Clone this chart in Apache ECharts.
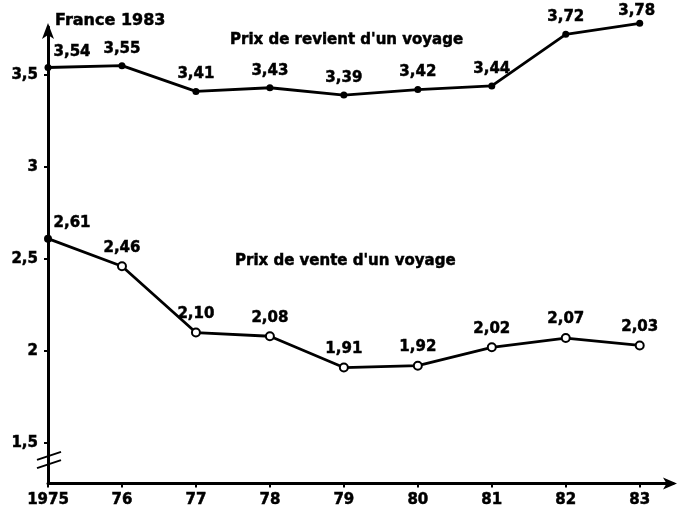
<!DOCTYPE html>
<html>
<head>
<meta charset="utf-8">
<script src="https://cdn.jsdelivr.net/npm/echarts@6/dist/echarts.min.js"></script>
<style>
  html, body { margin: 0; padding: 0; background: #fff; }
  #chart { width: 678px; height: 515px; }
</style>
</head>
<body>
<div id="chart"></div>
<script>
// Years on the horizontal axis and their printed labels
const years = [1975, 1976, 1977, 1978, 1979, 1980, 1981, 1982, 1983];
const yearLabels = ['1975', '76', '77', '78', '79', '80', '81', '82', '83'];

// Cost price of a trip (upper curve) and selling price of a trip (lower curve)
const prixRevient = [3.54, 3.55, 3.41, 3.43, 3.39, 3.42, 3.44, 3.72, 3.78];
const prixVente = [2.61, 2.46, 2.10, 2.08, 1.91, 1.92, 2.02, 2.07, 2.03];

// Values printed on the vertical axis
const yTicks = [1.5, 2, 2.5, 3, 3.5];

const titleText = 'France 1983';
const labelRevient = "Prix de revient d'un voyage";
const labelVente = "Prix de vente d'un voyage";

const FONT = 'DejaVu Sans';
const INK = '#000';

const fr = v => v.toFixed(2).replace('.', ',');
const frAxis = v => String(v).replace('.', ',');

// heavy printed lettering
const textStyle = {
  fontFamily: FONT, fontWeight: 'bold', fontSize: 15, color: INK,
  textBorderColor: INK, textBorderWidth: 0.5
};

const chart = echarts.init(document.getElementById('chart'), null, { renderer: 'canvas' });

function pointLabel(i, n) {
  const fmt = p => fr(p.value[1]);
  // the first value sits on the vertical axis, so its label is pushed to the right
  if (i === 0) return { show: true, position: 'top', distance: 4, offset: [24, 0], formatter: fmt };
  // the last point is close to the top edge, so its label hugs the point
  if (i === n - 1) return { show: true, position: 'top', distance: 1, offset: [-3, 0], formatter: fmt };
  return { show: true, position: 'top', distance: 6, formatter: fmt };
}

const revientData = years.map((y, i) => ({ value: [y, prixRevient[i]], label: pointLabel(i, years.length) }));
const venteData = years.map((y, i) => {
  const item = { value: [y, prixVente[i]], label: pointLabel(i, 0) };
  if (i === 0) { item.symbol = 'circle'; item.itemStyle = { color: INK }; }
  return item;
});

const axisText = {
  fontFamily: FONT, fontWeight: 'bold', fontSize: 15, color: INK,
  textBorderColor: INK, textBorderWidth: 0.5
};

chart.setOption({
  backgroundColor: '#fff',
  animation: false,
  title: [
    { text: titleText, left: 55, top: 13, padding: 0, textStyle: Object.assign({}, textStyle, { fontSize: 16 }) },
    { text: labelRevient, left: 230, top: 33, padding: 0, textStyle: textStyle },
    { text: labelVente, left: 235, top: 254, padding: 0, textStyle: textStyle }
  ],
  grid: { left: 48, right: 5, top: 27, bottom: 31.5, containLabel: false },
  xAxis: {
    type: 'value',
    min: 1975,
    max: 1983.45,
    axisLine: { show: true, onZero: false, lineStyle: { color: INK, width: 3 }, symbol: ['none', 'arrow'], symbolSize: [9, 14], symbolOffset: [0, 4] },
    axisTick: { show: true, customValues: years, length: 4, inside: false, lineStyle: { color: INK, width: 2 } },
    axisLabel: Object.assign({
      customValues: years,
      margin: 9,
      formatter: v => yearLabels[years.indexOf(v)] || ''
    }, axisText),
    splitLine: { show: false }
  },
  yAxis: {
    type: 'value',
    min: 1.28,
    max: 3.76,
    axisLine: { show: true, onZero: false, lineStyle: { color: INK, width: 3 }, symbol: ['none', 'arrow'], symbolSize: [9, 16], symbolOffset: [0, 4] },
    axisTick: { show: true, customValues: yTicks, length: 4, lineStyle: { color: INK, width: 2 } },
    axisLabel: Object.assign({
      customValues: yTicks,
      margin: 10,
      formatter: v => frAxis(v)
    }, axisText),
    splitLine: { show: false }
  },
  series: [
    {
      name: labelRevient,
      type: 'line',
      data: revientData,
      clip: false,
      symbol: 'circle',
      symbolSize: 7,
      itemStyle: { color: INK },
      lineStyle: { color: INK, width: 2.8 },
      label: textStyle,
      z: 3
    },
    {
      name: labelVente,
      type: 'line',
      data: venteData,
      clip: false,
      symbol: 'emptyCircle',
      symbolSize: 8,
      itemStyle: { color: INK, borderWidth: 2 },
      lineStyle: { color: INK, width: 2.8 },
      label: textStyle,
      z: 3
    }
  ]
});

// Axis break marks drawn across the vertical axis below 1,5
const brk = [1.43, 1.385].map(v => chart.convertToPixel({ gridIndex: 0 }, [1975, v]));
chart.setOption({
  graphic: brk.map(p => ({
    type: 'line',
    shape: { x1: p[0] - 11, y1: p[1] + 4, x2: p[0] + 13, y2: p[1] - 4 },
    style: { stroke: INK, lineWidth: 2 },
    z: 10
  }))
});
</script>
</body>
</html>
